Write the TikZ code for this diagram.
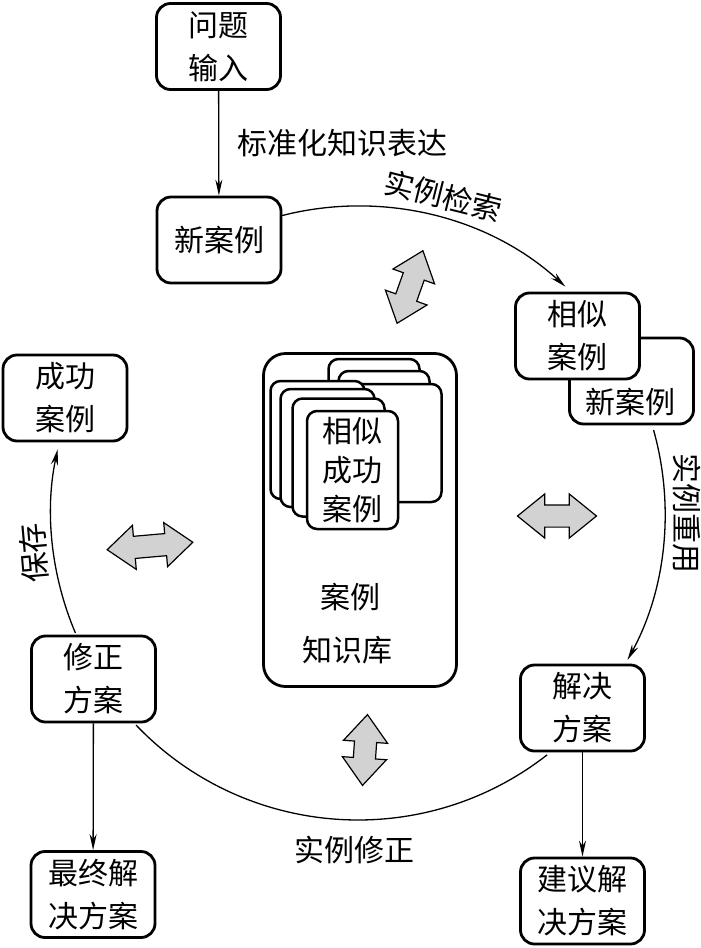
\documentclass[tikz,border=0pt]{standalone}
\usepackage{fontspec}
\newfontfamily\cjk{Noto Sans CJK SC}
\usetikzlibrary{shapes.arrows,arrows.meta,calc}
\begin{document}
\begin{tikzpicture}[x=1pt,y=1pt,
 box/.style={draw,line width=2.8pt,rounded corners=14pt,fill=white,minimum width=124pt,minimum height=86pt,
   font=\cjk\fontsize{30}{43}\selectfont,align=center,inner sep=0pt},
 card/.style={draw,line width=2.5pt,rounded corners=10pt,fill=white,minimum width=91pt,minimum height=118pt,inner sep=0pt},
 lbl/.style={font=\cjk\fontsize{30}{43}\selectfont,align=center,inner sep=0pt},
 conn/.style={line width=1.3pt,-{Stealth[length=16pt,width=7pt]}},
 circ/.style={line width=1.3pt},
 dbl/.style={double arrow,draw,line width=1.2pt,fill=gray!35,inner xsep=0pt,inner ysep=10.5pt,
   double arrow head extend=11pt,double arrow tip angle=78}
]
\useasboundingbox (0,0) rectangle (701,-948);
\coordinate (C) at (358,-513);

% knowledge base
\node[draw,line width=2.8pt,rounded corners=22pt,minimum width=193pt,minimum height=333pt,inner sep=0pt] (kb) at (360,-520) {};
\node[card] (ca) at (374,-418) {};
\node[card] (cb) at (384,-430) {};
\node[card,minimum width=94pt] (cc) at (394.5,-443) {};
\node[card,minimum width=94pt] (l1) at (317.5,-440) {};
\node[card,minimum width=94pt] (l2) at (327.5,-448) {};
\node[card,minimum width=92pt] (l3) at (338.5,-457.5) {};
\node[card,align=center,font=\cjk\fontsize{30}{39}\selectfont] (front) at (352.5,-470) {相似\\成功\\案例};
\node[lbl] (kbt1) at (350,-597) {案例};
\node[lbl] (kbt2) at (347,-650) {知识库};

% boxes
\node[box] (q) at (218.5,-46.5) {问题\\输入};
\node[box] (n) at (219,-240) {新案例};
\node[box] (nb) at (631.5,-381) {};
\node[lbl] (nbt) at (630,-402) {新案例};
\node[box] (s) at (577.5,-336) {相似\\案例};
\node[box] (succ) at (65,-398) {成功\\案例};
\node[box] (rev) at (93.5,-679) {修正\\方案};
\node[box] (fin) at (93,-894.5) {最终解\\决方案};
\node[box] (sol) at (582.5,-708) {解决\\方案};
\node[box] (sug) at (582.5,-901) {建议解\\决方案};

% straight connectors
\draw[conn] (q) -- node[lbl,right=18pt] {标准化知识表达} (n);
\draw[conn] (rev) -- (fin);
\draw[conn] (sol) -- (sug);

% circle arcs
\draw[circ,-{Stealth[length=16pt,width=7pt]}] ($(C)+(104.3:307)$) arc[start angle=104.3,end angle=47.5,radius=307];
\draw[circ,-{Stealth[length=16pt,width=7pt]}] ($(C)+(15.7:307)$) arc[start angle=15.7,end angle=-28.6,radius=307];
\draw[circ] ($(C)+(-52:307)$) arc[start angle=-52,end angle=-136.3,radius=307];
\draw[circ,-{Stealth[length=16pt,width=7pt]}] ($(C)+(203:307)$) arc[start angle=203,end angle=168,radius=307];

% arc labels
\node[lbl,rotate=-14] (l-ret) at (443,-196) {实例检索};
\node[lbl,rotate=-90] (l-reuse) at (687,-513) {实例重用};
\node[lbl] (l-rev) at (354,-850) {实例修正};
\node[lbl,rotate=95] (l-save) at (34,-553) {保存};

% double arrows
\node[dbl,minimum height=77pt,rotate=70.4] (d1) at (410,-287) {};
\node[dbl,minimum height=79pt] (d2) at (557,-516) {};
\node[dbl,minimum height=86pt,rotate=5] (d3) at (150,-546) {};
\node[dbl,minimum height=71pt,rotate=86] (d4) at (365,-750) {};
\end{tikzpicture}
\end{document}
